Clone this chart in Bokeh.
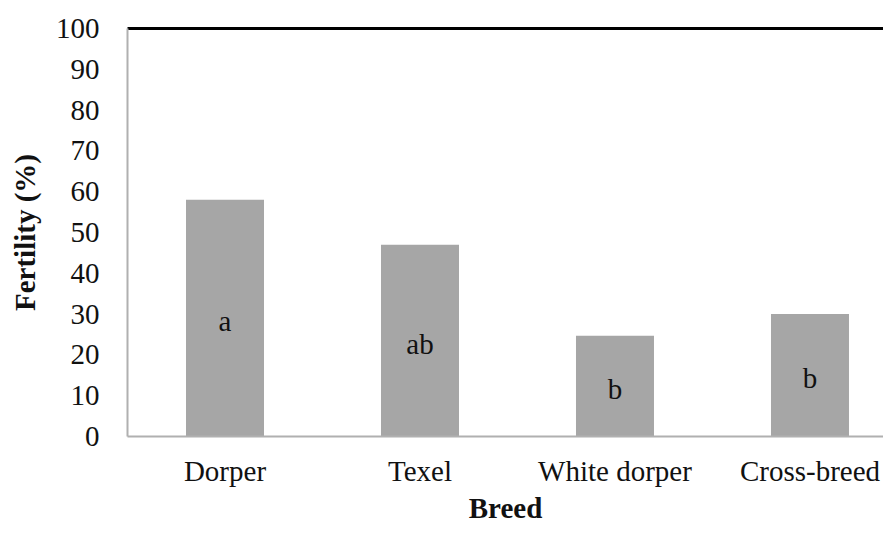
from bokeh.plotting import figure
from bokeh.models import Range1d, FixedTicker, LinearAxis, ColumnDataSource
from bokeh.core.properties import value
from bokeh.embed import file_html
from bokeh.resources import INLINE

breeds = ["Dorper", "Texel", "White dorper", "Cross-breed"]
fertility = [58, 47, 24.7, 30]
letters = ["a", "ab", "b", "b"]
y_ticks = [0, 10, 20, 30, 40, 50, 60, 70, 80, 90, 100]

FONT = "Liberation Serif"
xs = [i + 0.5 for i in range(len(breeds))]
src = ColumnDataSource(dict(x=xs, top=fertility, mid=[v / 2 for v in fertility], lab=letters))

p = figure(width=883, height=526, output_backend="svg", toolbar_location=None,
           x_range=Range1d(0, 3.877), y_range=Range1d(0, 100),
           min_border_left=127, min_border_right=0, min_border_top=28, min_border_bottom=80)
p.outline_line_color = None
p.xgrid.visible = False
p.ygrid.visible = False
p.background_fill_color = "white"
p.border_fill_color = "white"

p.vbar(x="x", top="top", width=0.4, bottom=0, source=src, fill_color="#a6a6a6", line_color=None)
p.text(x="x", y="mid", text="lab", source=src, text_align="center", text_baseline="middle",
       y_offset=3, text_font=value(FONT), text_font_size="29px", text_color="#111111")

# x axis
xa = p.xaxis[0]
xa.ticker = FixedTicker(ticks=xs)
xa.major_label_overrides = {x: b for x, b in zip(xs, breeds)}
xa.major_tick_out = 0
xa.major_tick_in = 0
xa.minor_tick_out = 0
xa.minor_tick_in = 0
xa.major_tick_line_color = None
xa.minor_tick_line_color = None
xa.axis_line_color = "#b0b0b0"
xa.axis_line_width = 2
xa.major_label_text_font = FONT
xa.major_label_text_font_size = "29px"
xa.major_label_text_color = "#111111"
xa.major_label_standoff = 18
xa.axis_label = "Breed"
xa.axis_label_text_font = FONT
xa.axis_label_text_font_size = "29px"
xa.axis_label_text_font_style = "bold"
xa.axis_label_text_color = "#111111"
xa.axis_label_standoff = 2

# y axis
ya = p.yaxis[0]
ya.ticker = FixedTicker(ticks=y_ticks)
ya.major_tick_out = 0
ya.major_tick_in = 0
ya.minor_tick_out = 0
ya.minor_tick_in = 0
ya.major_tick_line_color = None
ya.minor_tick_line_color = None
ya.axis_line_color = "#b0b0b0"
ya.axis_line_width = 2
ya.major_label_text_font = FONT
ya.major_label_text_font_size = "29px"
ya.major_label_text_color = "#111111"
ya.major_label_standoff = 28
ya.axis_label = "Fertility (%)"
ya.axis_label_text_font = FONT
ya.axis_label_text_font_size = "29px"
ya.axis_label_text_font_style = "bold"
ya.axis_label_text_color = "#111111"
ya.axis_label_standoff = 12

# top black line
top = LinearAxis(ticker=FixedTicker(ticks=[]), major_label_text_font_size="0px",
                 axis_line_color="black", axis_line_width=3,
                 major_tick_out=0, major_tick_in=0, minor_tick_out=0, minor_tick_in=0,
                 major_tick_line_color=None, minor_tick_line_color=None)
p.add_layout(top, "above")

open("out.html", "w").write(file_html(p, INLINE))
